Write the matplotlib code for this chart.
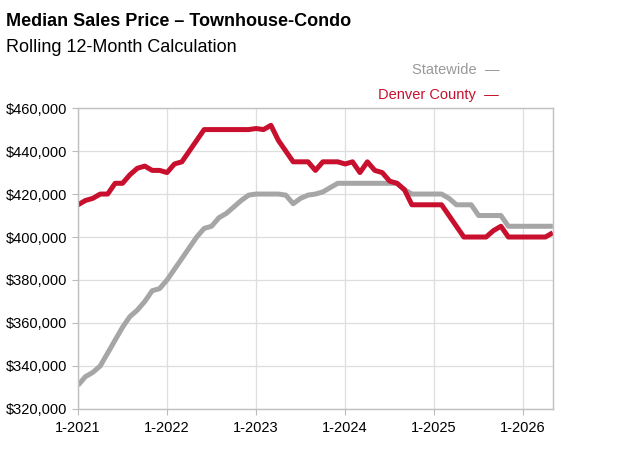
import matplotlib.pyplot as plt
from matplotlib.ticker import FuncFormatter

plt.rcParams['font.family'] = ['Liberation Sans', 'DejaVu Sans']

# meses desde 1-2021
meses = list(range(65))

estadual = [331, 335, 337, 340, 346, 352, 358, 363, 366, 370, 375, 376, 380,
            385, 390, 395, 400, 404, 405, 409, 411, 414, 417, 419.5, 420,
            420, 420, 420, 419.5, 415.5, 418, 419.5, 420, 421, 423, 425,
            425, 425, 425, 425, 425, 425, 425, 425, 422, 420, 420, 420, 420,
            420, 418, 415, 415, 415, 410, 410, 410, 410, 405, 405, 405, 405,
            405, 405, 405]

denver = [415, 417, 418, 420, 420, 425, 425, 429, 432, 433, 431, 431, 430,
          434, 435, 440, 445, 450, 450, 450, 450, 450, 450, 450, 450.5,
          450, 452, 445, 440, 435, 435, 435, 431, 435, 435, 435,
          434, 435, 430, 435, 431, 430, 426, 425, 422, 415, 415, 415, 415,
          415, 410, 405, 400, 400, 400, 400, 403, 405, 400, 400, 400, 400,
          400, 400, 402]

anos = ['1-2021', '1-2022', '1-2023', '1-2024', '1-2025', '1-2026']

cinza = '#a6a6a6'
vermelho = '#c8102e'

fig = plt.figure(figsize=(6.24, 4.70), dpi=100)
ax = fig.add_axes([0.125, 0.130, 0.761, 0.640])

ax.plot(meses, [v * 1000 for v in estadual], color=cinza, lw=3.6, solid_capstyle='butt')
ax.plot(meses, [v * 1000 for v in denver], color=vermelho, lw=3.6, solid_capstyle='butt')

ax.set_xlim(0, 64)
ax.set_ylim(320000, 460000)
ax.set_xticks([12 * i for i in range(len(anos))])
ax.set_xticklabels(anos)
ax.set_yticks(range(320000, 460001, 20000))
ax.yaxis.set_major_formatter(FuncFormatter(lambda v, p: '${:,.0f}'.format(v)))
ax.tick_params(labelsize=10.5, colors='#bbbbbb', labelcolor='black', length=4, width=0.8)
ax.tick_params(axis='x', pad=5)
ax.grid(True, color='#dedede', lw=0.9)
for s in ax.spines.values():
    s.set_color('#c0c0c0')
    s.set_linewidth(1)

fig.text(0.010, 0.955, 'Median Sales Price \u2013 Townhouse-Condo', fontsize=13,
         fontweight='bold', va='center', ha='left')
fig.text(0.010, 0.898, 'Rolling 12-Month Calculation', fontsize=13, va='center', ha='left')
fig.text(0.800, 0.851, 'Statewide  \u2014', fontsize=10.5, color='#999999', ha='right', va='center')
fig.text(0.800, 0.798, 'Denver County  \u2014', fontsize=10.5, color=vermelho, ha='right', va='center')

fig.savefig('out.png', dpi=100)
